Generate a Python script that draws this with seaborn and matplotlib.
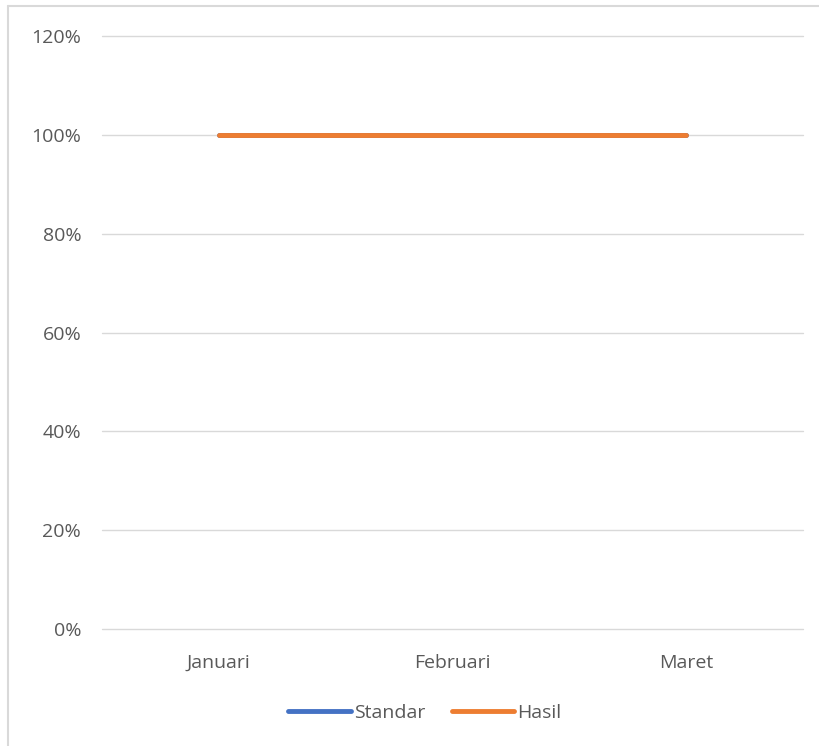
import matplotlib
matplotlib.use("Agg")
import matplotlib.pyplot as plt
import seaborn as sns
import pandas as pd
from matplotlib.ticker import PercentFormatter
from matplotlib.lines import Line2D

categories = ["Januari", "Februari", "Maret"]
standar = [1.0, 1.0, 1.0]
hasil = [1.0, 1.0, 1.0]

df = pd.DataFrame({
    "Bulan": categories * 2,
    "Nilai": standar + hasil,
    "Seri": ["Standar"] * 3 + ["Hasil"] * 3,
})

sns.set_theme(style="white")
plt.rcParams['font.family'] = ['Open Sans', 'DejaVu Sans']

fig = plt.figure(figsize=(8.2, 7.46), dpi=100)
ax = fig.add_axes([102/820, 1 - 629/746, (803-102)/820, (629-36)/746])

sns.lineplot(data=df, x="Bulan", y="Nilai", hue="Seri", sort=False,
             palette={"Standar": "#4472C4", "Hasil": "#ED7D31"},
             linewidth=3.5, ax=ax, legend=False)
for ln in ax.get_lines():
    ln.set_solid_capstyle("round")
    ln.set_zorder(3)

ax.set_xlim(-0.5, 2.5)
ax.set_ylim(0, 1.2)
ax.set_yticks([0, 0.2, 0.4, 0.6, 0.8, 1.0, 1.2])
ax.yaxis.set_major_formatter(PercentFormatter(1.0, decimals=0))
ax.grid(axis="y", color="#D9D9D9", linewidth=1.0)
for gl in ax.get_ygridlines():
    gl.set_clip_on(False)
ax.set_axisbelow(True)
for s in ax.spines.values():
    s.set_visible(False)
ax.set_xlabel("")
ax.set_ylabel("")
ax.tick_params(axis="both", length=0, labelsize=14, labelcolor="#595959")
ax.tick_params(axis="x", pad=18)
ax.tick_params(axis="y", pad=15)

handles = [Line2D([], [], color="#4472C4", linewidth=3.5, solid_capstyle="round"),
           Line2D([], [], color="#ED7D31", linewidth=3.5, solid_capstyle="round")]
fig.legend(handles, ["Standar", "Hasil"], loc="center", bbox_to_anchor=(425/820, 1 - 713/746),
           ncol=2, frameon=False, fontsize=14, labelcolor="#595959",
           handlelength=3.2, handletextpad=0.15, columnspacing=1.4)

# chart-area border (left and top edges visible in the reference)
fig.add_artist(Line2D([8/820, 8/820], [0, 1 - 6/746], transform=fig.transFigure,
                      color="#D9D9D9", linewidth=1.5))
fig.add_artist(Line2D([8/820, 1], [1 - 6/746, 1 - 6/746], transform=fig.transFigure,
                      color="#D9D9D9", linewidth=1.5))

fig.savefig("out.png", dpi=100)
